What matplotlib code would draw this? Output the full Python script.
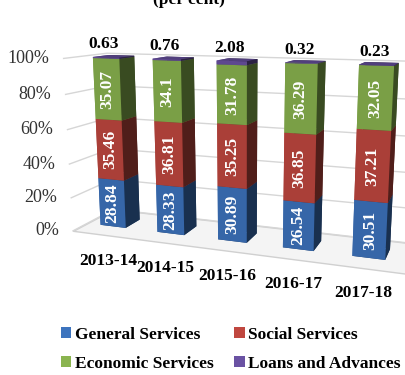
import numpy as np
import matplotlib.pyplot as plt
from matplotlib.patches import Patch
from matplotlib.transforms import IdentityTransform
from mpl_toolkits.mplot3d import proj3d
from mpl_toolkits.mplot3d.art3d import Poly3DCollection

# data (per cent shares)
years = ['2013-14', '2014-15', '2015-16', '2016-17', '2017-18']
general = [28.84, 28.33, 30.89, 26.54, 30.51]
social = [35.46, 36.81, 35.25, 36.85, 37.21]
economic = [35.07, 34.1, 31.78, 36.29, 32.05]
loans = [0.63, 0.76, 2.08, 0.32, 0.23]
names = ['General Services', 'Social Services', 'Economic Services', 'Loans and Advances']
colors = ['#3d74be', '#c0473f', '#8ab44f', '#6a52a3']
yticks = [0, 20, 40, 60, 80, 100]

plt.rcParams['font.family'] = ['Liberation Serif', 'DejaVu Serif']

fig = plt.figure(figsize=(4.06, 3.75), dpi=100)
# square 3d axes, 420 px, a bit larger than the figure so nothing gets clipped
ax = fig.add_axes([28 / 406, 8 / 375, 420 / 406, 420 / 375], projection='3d',
                  computed_zorder=False)
ax.set_proj_type('persp', focal_length=0.3)
ax.view_init(elev=12, azim=-70)

xmin, xmax = -0.24, 4.9
ymin, ymax = -0.4, 0.8
dx = dy = 0.45
ax.set_xlim(xmin, xmax)
ax.set_ylim(ymin, ymax)
ax.set_zlim(0, 100)
ax.set_box_aspect((xmax - xmin, ymax - ymin, 2.63), zoom=0.94)
ax.set_axis_off()

# floor
floor = Poly3DCollection([[(xmin, ymin, 0), (xmax, ymin, 0), (xmax, ymax, 0), (xmin, ymax, 0)]],
                         facecolor='#f4f4f4', edgecolor='#d0d0d0', linewidth=1, zorder=0)
ax.add_collection3d(floor)

# gridlines on side wall and back wall
for t in yticks:
    ax.plot([xmin, xmin, xmax], [ymin, ymax, ymax], [t, t, t], color='#d6d6d6', lw=1, zorder=1)

# stacked bars
series = [general, social, economic, loans]
xs, ys, zs, dzs, cs = [], [], [], [], []
bottom = np.zeros(len(years))
for vals, c in zip(series, colors):
    for i, v in enumerate(vals):
        xs.append(i)
        ys.append(0)
        zs.append(bottom[i])
        dzs.append(v)
        cs.append(c)
    bottom = bottom + np.array(vals)
ax.bar3d(xs, ys, zs, dx, dy, dzs, color=cs, shade=True, zorder=2)

# project 3d points to pixels so the texts can be placed in 2d
fig.canvas.draw()
M = ax.get_proj()


def to_px(x, y, z):
    px, py, _ = proj3d.proj_transform(x, y, z, M)
    return ax.transData.transform((px, py))


pix = IdentityTransform()

for t in yticks:
    X, Y = to_px(xmin, ymin, t)
    fig.text(X - 14, Y, f'{t}%', ha='right', va='center', fontsize=13, color='#333333',
             transform=pix)

# labels inside bars
bottom = np.zeros(len(years))
for vals in series[:3]:
    for i, v in enumerate(vals):
        X, Y = to_px(i + dx / 2, 0, bottom[i] + v / 2)
        fig.text(X, Y, f'{v:g}', rotation=90, ha='center', va='center', color='white',
                 fontsize=12.5, fontweight='bold', transform=pix)
    bottom = bottom + np.array(vals)
for i, v in enumerate(loans):
    X, Y = to_px(i + dx / 2, 0, 100)
    fig.text(X - 2, Y + 5, f'{v:g}', ha='center', va='bottom', fontsize=12.5,
             fontweight='bold', transform=pix)

# category labels
for i, yr in enumerate(years):
    X, Y = to_px(i + dx / 2, 0, 0)
    fig.text(X - 5, Y - 35, yr, ha='center', va='center', fontsize=12.5,
             fontweight='bold', transform=pix)

# partially cut title
fig.text(0.465, 1 - 4 / 375, '(per cent)', ha='center', va='baseline', fontsize=12.5,
         fontweight='bold')

order = [0, 2, 1, 3]
handles = [Patch(facecolor=colors[k], label=names[k]) for k in order]
fig.legend(handles=handles, loc='upper left', bbox_to_anchor=(52 / 406, 1 - 318 / 375),
           ncol=2, frameon=False, prop={'weight': 'bold', 'size': 12.5},
           handlelength=0.6, handleheight=0.6, handletextpad=0.2,
           columnspacing=1.2, labelspacing=0.75, borderpad=0)

fig.savefig('out.png', dpi=100)
